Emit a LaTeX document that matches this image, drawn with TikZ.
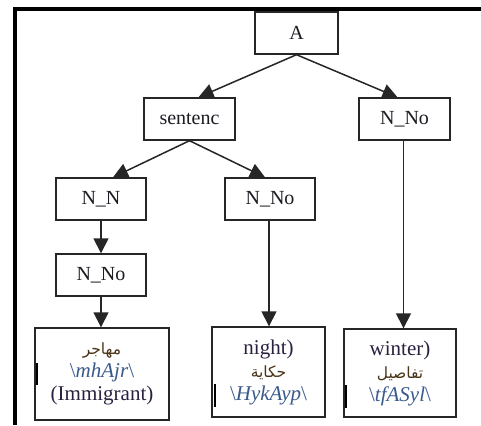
\documentclass[tikz,border=0pt]{standalone}
\usepackage{fontspec}
\setmainfont{Liberation Serif}
\newfontfamily\arabicfont[Script=Arabic]{DejaVu Sans}
\TeXXeTstate=1
\usetikzlibrary{arrows.meta}
\definecolor{arcol}{HTML}{4A3418}
\definecolor{trcol}{HTML}{3A5A8C}
\definecolor{encol}{HTML}{2A2040}
\definecolor{lbcol}{HTML}{1E1A22}
\begin{document}
\begin{tikzpicture}[x=1pt,y=-1pt,
  treebox/.style={draw=black!85,line width=1.4pt,inner sep=0pt,
    minimum width=90pt,minimum height=42pt,text=lbcol,
    font=\fontsize{20}{22}\selectfont},
  leafbox/.style={draw=black!85,line width=1.4pt,inner sep=0pt,align=center,
    font=\fontsize{21}{23}\selectfont},
  arabictext/.style={},
  edge/.style={line width=1.5pt,draw=black!85,
    -{Triangle[width=15pt,length=15pt]}},
  cursorbar/.style={line width=2.2pt,draw=black}]
\useasboundingbox (0,0) rectangle (481,425);
\fill[white] (0,0) rectangle (481,425);
% outer frame (top and left edges)
\draw[line width=4pt] (14.5,9) -- (481,9);
\draw[line width=4pt] (14.5,7) -- (14.5,425);

% tree nodes
\node[treebox,minimum width=83pt] (A) at (296.5,33) {A};
\node[treebox,minimum width=91pt] (sent) at (189.5,119) {sentenc};
\node[treebox,minimum width=91pt] (nnoR) at (404.5,119) {N\_No};
\node[treebox] (nn) at (101,199) {N\_N};
\node[treebox] (nnoM) at (270,199) {N\_No};
\node[treebox] (nnoL) at (101,275) {N\_No};

% leaves
\node[leafbox,minimum width=134pt,minimum height=92pt] (leafL) at (102,374)
  {{\color{arcol}\arabicfont\fontsize{15.5}{23}\selectfont\beginR مهاجر\endR}\\
   {\color{trcol}\textbackslash\textit{mhAjr}\textbackslash}\\
   {\color{encol}(Immigrant)}};
\node[leafbox,minimum width=113pt,minimum height=90pt] (leafM) at (268.5,372)
  {{\color{encol}night)}\\
   {\color{arcol}\arabicfont\fontsize{15.5}{23}\selectfont\beginR حكاية\endR}\\
   {\color{trcol}\textbackslash\textit{HykAyp}\textbackslash}};
\node[leafbox,minimum width=112pt,minimum height=88pt] (leafR) at (400,373)
  {{\color{encol}winter)}\\
   {\color{arcol}\arabicfont\fontsize{15.5}{23}\selectfont\beginR تفاصيل\endR}\\
   {\color{trcol}\textbackslash\textit{tfASyl}\textbackslash}};

% connectors
\draw[edge] (A.south) -- ([xshift=9pt]sent.north);
\draw[edge] (A.south) -- ([xshift=-7pt]nnoR.north);
\draw[edge] (sent.south) -- ([xshift=12pt]nn.north);
\draw[edge] (sent.south) -- ([xshift=-5pt]nnoM.north);
\draw[edge] (nn.south) -- (nnoL.north);
\draw[edge] (nnoL.south) -- (nnoL.south |- leafL.north);
\draw[edge] ([xshift=-1pt]nnoM.south) -- ([xshift=-1pt]nnoM.south |- leafM.north);
\draw[edge] ([xshift=-1pt]nnoR.south) -- ([xshift=-1pt]nnoR.south |- leafR.north);

% text cursor marks inside the leaves
\draw[cursorbar] ([xshift=2.5pt,yshift=-11pt]leafL.west) -- ([xshift=2.5pt,yshift=11pt]leafL.west);
\draw[cursorbar] ([xshift=3.5pt,yshift=-12pt]leafM.west) -- ([xshift=3.5pt,yshift=-35pt]leafM.west);
\draw[cursorbar] ([xshift=2.5pt,yshift=-12pt]leafR.west) -- ([xshift=2.5pt,yshift=-35pt]leafR.west);
\end{tikzpicture}
\end{document}
